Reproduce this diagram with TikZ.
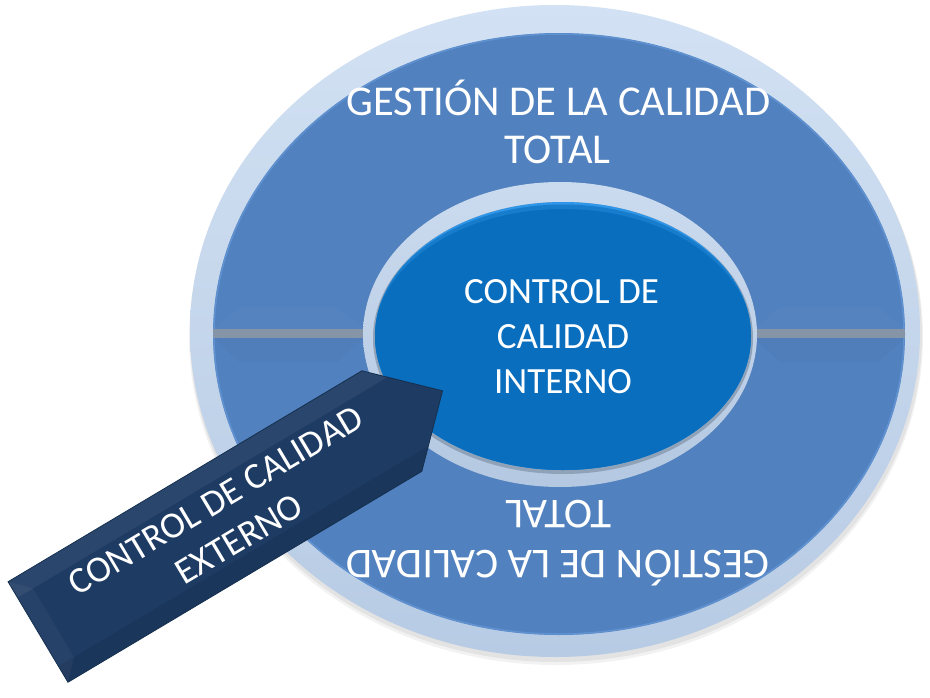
\documentclass[tikz,border=0pt]{standalone}
\usepackage{fontspec}
\setmainfont{Carlito}
\definecolor{rimTop}{HTML}{D2E1F3}
\definecolor{rimBot}{HTML}{B7CBE4}
\definecolor{band}{HTML}{5181BE}
\definecolor{bandEdge}{HTML}{6A9EE0}
\definecolor{divider}{HTML}{8694A8}
\definecolor{ringTop}{HTML}{CBDBEF}
\definecolor{ringBot}{HTML}{B4C8E1}
\definecolor{ringShadow}{HTML}{8FA2B8}
\definecolor{innerHi}{HTML}{2E96E8}
\definecolor{innerMid}{HTML}{167CCB}
\definecolor{inner}{HTML}{0A6EBE}
\definecolor{arrowFill}{HTML}{1E3B63}
\definecolor{arrowEdge}{HTML}{15304F}
\begin{document}
\begin{tikzpicture}[x=1pt,y=-1pt,
  bigtext/.style={text=white,inner sep=0pt,anchor=base,font=\fontsize{42.5}{48}\selectfont},
  midtext/.style={text=white,inner sep=0pt,anchor=base,font=\fontsize{37}{45}\selectfont}]
\useasboundingbox (0,0) rectangle (930,697);
\fill[white] (0,0) rectangle (930,697);
% soft shadow of the outer disc
\fill[black,opacity=0.05] (556,337) ellipse [x radius=367, y radius=328];
\fill[black,opacity=0.06] (556,335) ellipse [x radius=366, y radius=327];
% outer light rim
\shade[top color=rimTop,bottom color=rimBot] (555,331) ellipse [x radius=365, y radius=326];
% blue band
\fill[band] (559,334) ellipse [x radius=346, y radius=301];
\draw[bandEdge,line width=1.5pt,opacity=0.6] (559,334) ellipse [x radius=345, y radius=300];
% bevel faces beside dividers
\fill[white,opacity=0.025] (213,329) -- (240,307) -- (337,307) -- (364,329) -- cycle;
\fill[white,opacity=0.025] (754,329) -- (780,307) -- (878,307) -- (905,329) -- cycle;
\fill[black,opacity=0.02] (213,338) -- (240,362) -- (337,362) -- (364,338) -- cycle;
\fill[black,opacity=0.02] (754,338) -- (780,362) -- (878,362) -- (905,338) -- cycle;
% dividers
\fill[divider] (213,329) rectangle (366,338);
\fill[divider] (754,329) rectangle (905,338);
% inner light ring
\shade[top color=ringTop,bottom color=ringBot] (560,334.5) ellipse [x radius=197, y radius=152.5];
\fill[ringShadow] (563,338) ellipse [x radius=190, y radius=136];
% inner blue disc
\begin{scope}
  \clip (563,336) ellipse [x radius=188, y radius=134];
  \fill[innerHi] (563,336) ellipse [x radius=190, y radius=136];
  \fill[innerMid] (563,338.5) ellipse [x radius=190, y radius=134];
  \fill[inner] (563,341) ellipse [x radius=190, y radius=132];
\end{scope}
% texts of the band
\node[bigtext] (g1) at (558.5,115) {GESTIÓN DE LA CALIDAD};
\node[bigtext] (g2) at (557.5,163) {TOTAL};
\node[bigtext,rotate=180] (h2) at (558.5,500) {TOTAL};
\node[bigtext,rotate=180] (h1) at (558,550) {GESTIÓN DE LA CALIDAD};
% texts of the inner disc
\node[midtext] (c1) at (561.5,303) {CONTROL DE};
\node[midtext] (c2) at (563,348) {CALIDAD};
\node[midtext] (c3) at (563,393) {INTERNO};
% external arrow
\begin{scope}[shift={(38,632)},rotate=30.8]
  \fill[arrowFill] (0,-58.5) -- (412,-58.5) -- (471,0) -- (412,58.5) -- (0,58.5) -- cycle;
  \fill[white,opacity=0.06] (0,-58.5) -- (412,-58.5) -- (430.5,-40) -- (0,-40) -- cycle;
  \fill[white,opacity=0.04] (0,-58.5) -- (18,-40) -- (18,40) -- (0,58.5) -- cycle;
  \fill[black,opacity=0.08] (0,40) -- (430.5,40) -- (412,58.5) -- (0,58.5) -- cycle;
  \draw[arrowEdge,line width=0.8pt] (0,-58.5) -- (412,-58.5) -- (471,0) -- (412,58.5) -- (0,58.5) -- cycle;
  \node[midtext,anchor=center,align=center,transform shape] (ext) at (220,0.8) {CONTROL DE CALIDAD\\EXTERNO};
\end{scope}
\end{tikzpicture}
\end{document}
